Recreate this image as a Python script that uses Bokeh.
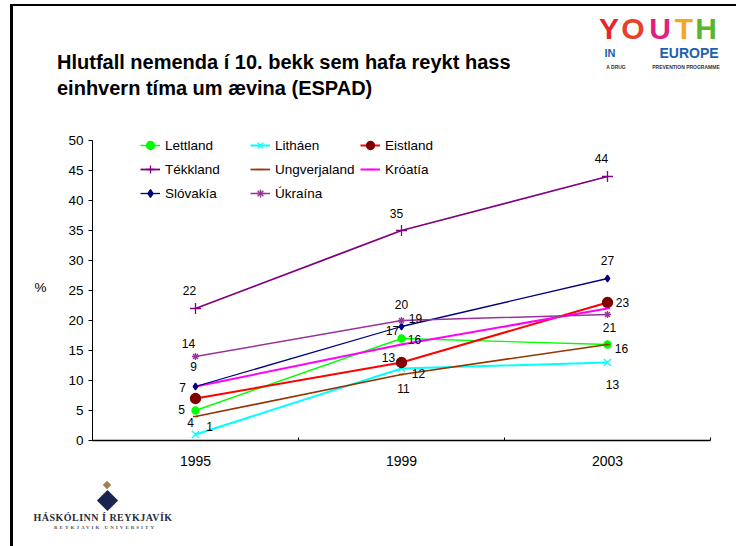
from bokeh.plotting import figure
from bokeh.models import (ColumnDataSource, LabelSet, Legend, LegendItem,
                          FixedTicker, Div)
from bokeh.layouts import column
from bokeh.core.properties import value
from bokeh.embed import file_html
from bokeh.resources import INLINE

# ---------------- data ----------------
years = ["1995", "1999", "2003"]
series_names = ["Lettland", "Litháen", "Eistland", "Tékkland",
                "Ungverjaland", "Króatía", "Slóvakía", "Úkraína"]
lettland = [5, 17, 16]
lithaen = [1, 12, 13]
eistland = [7, 13, 23]
tekkland = [22, 35, 44]
ungverjaland = [4, 11, 16]
kroatia = [9, 16, 22]
slovakia = [9, 19, 27]
ukraina = [14, 20, 21]
y_ticks = [0, 5, 10, 15, 20, 25, 30, 35, 40, 45, 50]

title_lines = ["Hlutfall nemenda í 10. bekk sem hafa reykt hass",
               "einhvern tíma um ævina (ESPAD)"]

values = {
    "Lettland": lettland, "Litháen": lithaen, "Eistland": eistland,
    "Tékkland": tekkland, "Ungverjaland": ungverjaland, "Króatía": kroatia,
    "Slóvakía": slovakia, "Úkraína": ukraina,
}

# ---------------- styles ----------------
FONT = "Liberation Sans"
CSSFONT = "'Liberation Sans', Arial, sans-serif"
styles = {
    "Lettland":     dict(color="#00FF00", lw=1.4, marker="circle", size=7, fill="#00FF00"),
    "Litháen":      dict(color="#00FFFF", lw=2.0, marker="x", size=10, fill=None),
    "Eistland":     dict(color="#FF0000", lw=2.0, marker="circle", size=10, fill="#800000"),
    "Tékkland":     dict(color="#800080", lw=1.8, marker="cross", size=11, fill=None),
    "Ungverjaland": dict(color="#993300", lw=1.7, marker="dash", size=5, fill=None),
    "Króatía":      dict(color="#FF00FF", lw=2.0, marker="dash", size=5, fill=None),
    "Slóvakía":     dict(color="#000080", lw=1.3, marker="diamond", size=7, fill="#000080"),
    "Úkraína":      dict(color="#993399", lw=1.5, marker="asterisk", size=7, fill=None),
}
marker_line = {"Eistland": "#800000"}
# legend is filled column by column -> order so rows read as in the reference
legend_order = ["Lettland", "Tékkland", "Slóvakía", "Litháen", "Ungverjaland",
                "Úkraína", "Eistland", "Króatía"]

# data labels: (series, year index, x offset px, y offset px)
label_specs = [
    ("Tékkland", 0, -6, 18), ("Úkraína", 0, -7, 13), ("Króatía", 0, -2, 20),
    ("Eistland", 0, -13, 11), ("Lettland", 0, -14, 1), ("Ungverjaland", 0, -5, -6),
    ("Litháen", 0, 14, 8),
    ("Tékkland", 1, -5, 17), ("Úkraína", 1, 0, 16), ("Slóvakía", 1, 14, 8),
    ("Lettland", 1, -9, 8), ("Króatía", 1, 13, 5), ("Eistland", 1, -13, 5),
    ("Litháen", 1, 17, -5), ("Ungverjaland", 1, 2, -14),
    ("Tékkland", 2, -6, 18), ("Slóvakía", 2, 0, 18), ("Eistland", 2, 15, 0),
    ("Úkraína", 2, 2, -13), ("Lettland", 2, 14, -4), ("Litháen", 2, 5, -22),
]

xs = [i + 0.5 for i in range(len(years))]

TOP_H, BOT_H = 110, 70
Y_PAD = 1  # extra headroom above the axis top so the legend is not clipped
p = figure(width=736, height=546 - TOP_H - BOT_H, x_range=(0, len(years)),
           y_range=(y_ticks[0], y_ticks[-1] + Y_PAD),
           output_backend="svg", toolbar_location=None,
           min_border_left=92, min_border_right=26, min_border_top=24, min_border_bottom=36,
           margin=0)
p.background_fill_color = "white"
p.border_fill_color = None
p.outline_line_color = None
p.xgrid.visible = False
p.ygrid.visible = False

# y axis
ya = p.yaxis[0]
ya.bounds = (y_ticks[0], y_ticks[-1])
ya.ticker = FixedTicker(ticks=y_ticks)
ya.major_tick_in = 0
ya.major_tick_out = 4
ya.major_tick_line_color = "black"
ya.minor_tick_line_color = None
ya.axis_line_color = "black"
ya.major_label_text_font = FONT
ya.major_label_text_font_size = "13.5px"
ya.major_label_text_color = "black"
ya.major_label_standoff = 5
ya.axis_label = "%"
ya.axis_label_orientation = "horizontal"
ya.axis_label_text_font = FONT
ya.axis_label_text_font_size = "13.5px"
ya.axis_label_text_font_style = "normal"
ya.axis_label_text_color = "black"
ya.axis_label_standoff = 19

# x axis
xa = p.xaxis[0]
xa.ticker = FixedTicker(ticks=xs, minor_ticks=list(range(len(years) + 1)))
xa.major_label_overrides = {x: y for x, y in zip(xs, years)}
xa.major_tick_line_color = None
xa.minor_tick_in = 3
xa.minor_tick_out = 0
xa.minor_tick_line_color = "black"
xa.axis_line_color = "black"
xa.axis_line_width = 1.3
xa.major_label_text_font = FONT
xa.major_label_text_font_size = "14px"
xa.major_label_text_color = "black"
xa.major_label_standoff = 9

# series
legend_items = {}
for name in series_names:
    st = styles[name]
    src = ColumnDataSource(dict(x=xs, y=values[name]))
    lr = p.line("x", "y", source=src, line_color=st["color"], line_width=st["lw"])
    mr = p.scatter("x", "y", source=src, marker=st["marker"], size=st["size"],
                   line_color=marker_line.get(name, st["color"]), line_width=1.3,
                   fill_color=st["fill"] if st["fill"] else None)
    legend_items[name] = LegendItem(label=name, renderers=[lr, mr])

legend = Legend(items=[legend_items[n] for n in legend_order], ncols=3,
                location=(48, 237), padding=0, margin=0,
                border_line_color=None, background_fill_alpha=0,
                glyph_width=20, glyph_height=20, label_height=20, spacing=4,
                label_width=81, label_standoff=5,
                label_text_font=FONT, label_text_font_size="13.5px",
                label_text_color="black")
p.add_layout(legend, "center")

# data labels
lab = dict(x=[], y=[], text=[], dx=[], dy=[])
for name, i, dx, dy in label_specs:
    lab["x"].append(xs[i])
    lab["y"].append(values[name][i])
    lab["text"].append(str(values[name][i]))
    lab["dx"].append(dx)
    lab["dy"].append(dy)
p.add_layout(LabelSet(x="x", y="y", text="text", x_offset="dx", y_offset="dy",
                      source=ColumnDataSource(lab), text_align="center",
                      text_baseline="middle", text_font=value(FONT),
                      text_font_size="12px", text_color="black"))


# ---------------- surrounding slide texts (HTML) ----------------
def span(text, x, y, size, color="#000", weight="normal", align="left",
         font=CSSFONT, extra=""):
    tx = "-50%" if align == "center" else "0"
    return (f'<span style="position:absolute;left:{x}px;top:{y}px;'
            f'transform:translate({tx},-50%);white-space:nowrap;line-height:1;'
            f'font-family:{font};font-size:{size};color:{color};font-weight:{weight};{extra}">'
            f'{text}</span>')


def diamond(x, y, side, color):
    return (f'<div style="position:absolute;left:{x - side / 2}px;top:{y - side / 2}px;'
            f'width:{side}px;height:{side}px;background:{color};transform:rotate(45deg);"></div>')


top_parts = [
    span(title_lines[0], 57, 62, "20px", weight="bold"),
    span(title_lines[1], 57, 88, "20px", weight="bold"),
]
for ch, X, col in zip("YOUTH", [609, 633, 660, 684, 706],
                      ["#E8262A", "#E8402A", "#E0207F", "#F5A623", "#5CB531"]):
    top_parts.append(span(ch, X, 29, "30px", color=col, weight="bold", align="center"))
top_parts += [
    span("IN", 610, 53, "11px", color="#2060B0", weight="bold", align="center"),
    span("EUROPE", 689, 53, "14px", color="#2060B0", weight="bold", align="center"),
    span("A DRUG", 616, 67, "5px", color="#333", weight="bold", align="center"),
    span("PREVENTION PROGRAMME", 686, 67, "5px", color="#333", weight="bold", align="center"),
]
top_div = Div(text=f'<div style="position:relative;width:736px;height:{TOP_H}px;">'
              + "".join(top_parts) + "</div>",
              width=736, height=TOP_H, margin=0)

SERIF = "'Liberation Serif', 'DejaVu Serif', serif"
y0 = 546 - BOT_H
bot_parts = [
    diamond(107, 500 - y0, 15, "#1B2450"),
    diamond(107, 485 - y0, 6, "#A08050"),
    span("HÁSKÓLINN Í REYKJAVÍK", 103, 518 - y0, "10px", color="#2B2B3A",
         weight="bold", align="center", font=SERIF, extra="letter-spacing:0.5px;"),
    span("REYKJAVIK UNIVERSITY", 105, 527 - y0, "5px", color="#555",
         weight="bold", align="center", font=SERIF, extra="letter-spacing:2px;"),
]
bot_div = Div(text=f'<div style="position:relative;width:736px;height:{BOT_H}px;">'
              + "".join(bot_parts) + "</div>",
              width=736, height=BOT_H, margin=0)

frame_bg = ("linear-gradient(#000,#000) 10px 4px / 3px 542px no-repeat, "
            "linear-gradient(#000,#000) 10px 4px / 726px 2px no-repeat, #ffffff")
layout = column(top_div, p, bot_div, spacing=0, margin=0,
                styles={"background": frame_bg})

open("out.html", "w").write(file_html(layout, INLINE))
